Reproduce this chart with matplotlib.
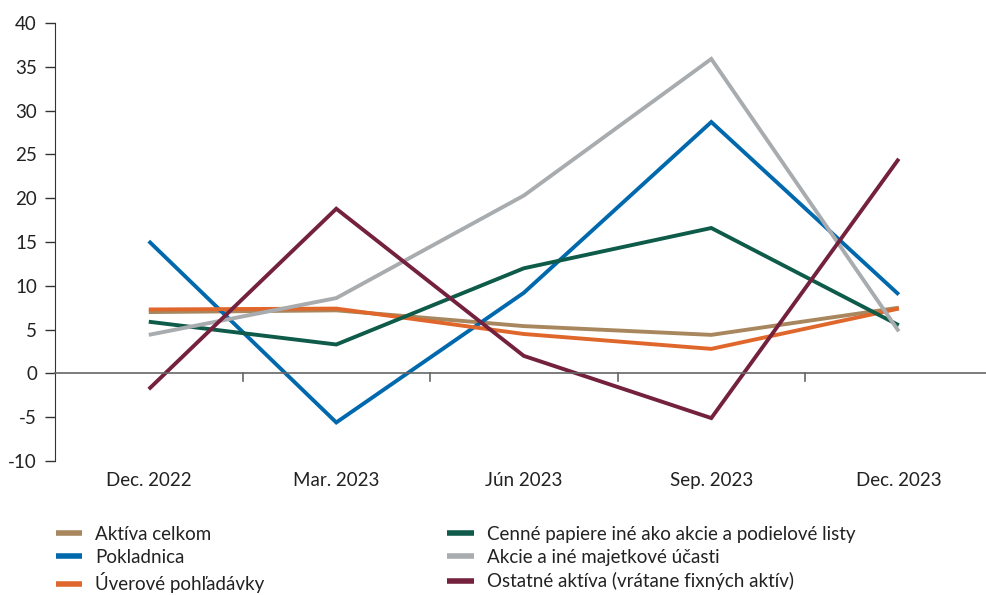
import matplotlib
matplotlib.use("Agg")
import matplotlib.pyplot as plt
import matplotlib.transforms as mtransforms

plt.rcParams['font.family'] = ['Lato', 'DejaVu Sans']
plt.rcParams['axes.unicode_minus'] = False

# kvartálne obdobia
obdobia = ['Dec. 2022', 'Mar. 2023', 'Jún 2023', 'Sep. 2023', 'Dec. 2023']

# medziročné zmeny v %
aktiva_celkom = [7.0, 7.2, 5.4, 4.4, 7.5]
pokladnica = [15.1, -5.6, 9.2, 28.7, 9.0]
uverove = [7.3, 7.4, 4.5, 2.8, 7.4]
cenne_papiere = [5.9, 3.3, 12.0, 16.6, 5.5]
akcie = [4.4, 8.6, 20.3, 35.9, 4.8]
ostatne = [-1.8, 18.8, 2.0, -5.1, 24.5]

rady = [
    ('Aktíva celkom', aktiva_celkom, '#A8875F'),
    ('Pokladnica', pokladnica, '#0068AD'),
    ('Úverové pohľadávky', uverove, '#E0672B'),
    ('Cenné papiere iné ako akcie a podielové listy', cenne_papiere, '#0E5B4A'),
    ('Akcie a iné majetkové účasti', akcie, '#A8ACAF'),
    ('Ostatné aktíva (vrátane fixných aktív)', ostatne, '#74213D'),
]

fs = 13.5

fig = plt.figure(figsize=(9.86, 5.95), dpi=100)
ax = fig.add_axes([0.0558, 0.2252, 0.9442, 0.7361])

x = list(range(len(obdobia)))
handles = []
for nazov, hodnoty, farba in rady:
    h, = ax.plot(x, hodnoty, color=farba, lw=2.8, label=nazov,
                 solid_capstyle='butt', solid_joinstyle='miter')
    handles.append(h)

ax.set_ylim(-10, 40)
ax.set_xlim(-0.5, 4.465)
ax.set_yticks(range(-10, 41, 5))
ax.tick_params(axis='y', length=7, width=1, color='#333333', labelsize=fs,
               labelcolor='#222222', pad=6)

# os x leží na nule, značky medzi obdobiami
for s in ['top', 'right']:
    ax.spines[s].set_visible(False)
ax.spines['left'].set_color('#333333')
ax.spines['bottom'].set_position(('data', 0))
ax.spines['bottom'].set_color('#666666')
ax.spines['bottom'].set_linewidth(1.2)
ax.set_xticks([0.5, 1.5, 2.5, 3.5])
ax.set_xticklabels([])
ax.tick_params(axis='x', direction='in', length=0)
for xb in [0.5, 1.5, 2.5, 3.5]:
    ax.plot([xb, xb], [0, -0.85], color='#666666', lw=1.2, clip_on=False)

trans = mtransforms.blended_transform_factory(ax.transData, ax.transAxes)
for i, lab in enumerate(obdobia):
    ax.text(i, -0.045, lab, transform=trans, ha='center', va='center',
            fontsize=fs, color='#222222')

leg = fig.legend(handles=handles, ncol=2, loc='upper left',
                 bbox_to_anchor=(0.049, 0.1294), frameon=False,
                 fontsize=fs, handlelength=1.4, handletextpad=0.7,
                 labelspacing=0.34, columnspacing=9.75, borderaxespad=0)
for lh in leg.get_lines():
    lh.set_linewidth(4)
for t in leg.get_texts():
    t.set_color('#222222')

fig.savefig('out.png', dpi=100)
